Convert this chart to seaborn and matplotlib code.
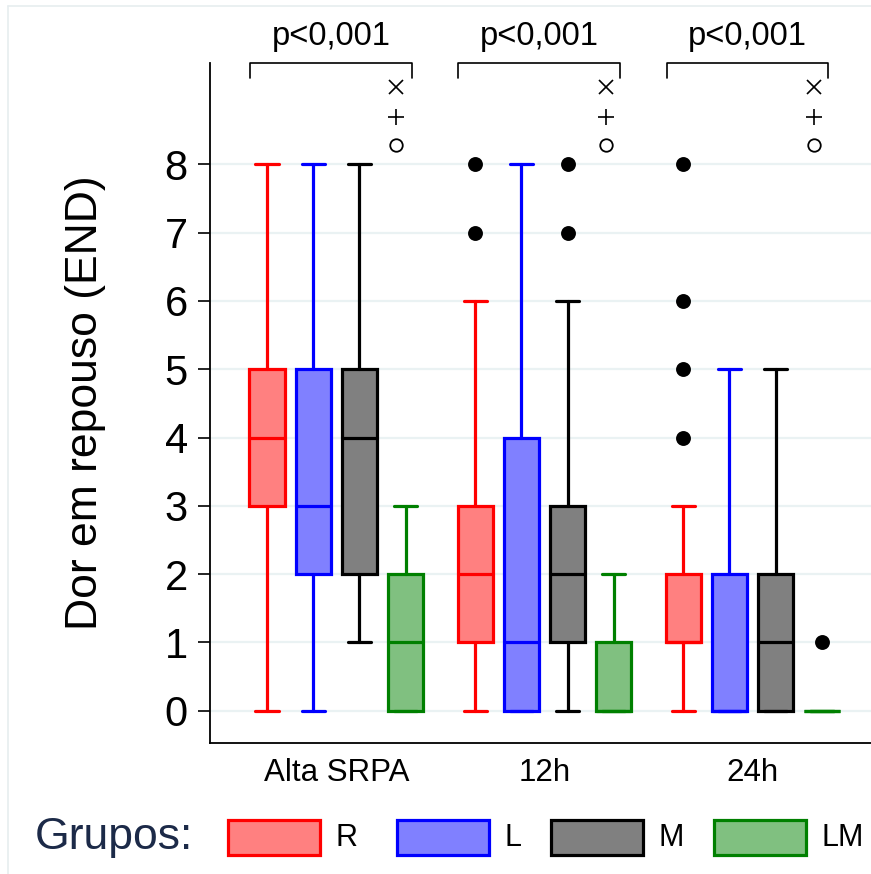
import matplotlib
matplotlib.use("Agg")
import matplotlib.pyplot as plt
from matplotlib.patches import Rectangle
import seaborn as sns
import pandas as pd

# ---------------- data ----------------
times = ["Alta SRPA", "12h", "24h"]
groups = ["R", "L", "M", "LM"]

# box statistics per time (order R, L, M, LM)
whislo = [[0, 0, 1, 0], [0, 0, 0, 0], [0, 0, 0, 0]]
q1     = [[3, 2, 2, 0], [1, 0, 1, 0], [1, 0, 0, 0]]
med    = [[4, 3, 4, 1], [2, 1, 2, 0], [1, 0, 1, 0]]
q3     = [[5, 5, 5, 2], [3, 4, 3, 1], [2, 2, 2, 0]]
whishi = [[8, 8, 8, 3], [6, 8, 6, 2], [3, 5, 5, 0]]
outliers = [[[], [], [], []],
            [[7, 8], [], [7, 8], []],
            [[4, 5, 6, 8], [], [], [1]]]

pvalues = ["p<0,001", "p<0,001", "p<0,001"]
yticks = [0, 1, 2, 3, 4, 5, 6, 7, 8]

fills = ["#FF8080", "#8080FF", "#808080", "#80C080"]
edges = ["#FF0000", "#0000FF", "#000000", "#008000"]

# ---------------- style ----------------
sns.set_theme(style="white")
plt.rcParams["font.family"] = ["Liberation Sans", "DejaVu Sans"]
for key in ["text.color", "axes.labelcolor", "xtick.color", "ytick.color"]:
    plt.rcParams[key] = "black"

fig = plt.figure(figsize=(8.71, 8.74), dpi=100)
W, H = 871, 874
ax = fig.add_axes([210 / W, (H - 743) / H, 1 - 210 / W, (743 - 63) / H])

grid_col = "#EAF2F3"
for y in yticks:
    ax.axhline(y, color=grid_col, lw=1.6, zorder=0)

lw = 2.3
pos_all, vals_all = [], []
for g in range(len(times)):
    for k in range(len(groups)):
        pos = g * 4.5 + k
        st = dict(whislo=whislo[g][k], q1=q1[g][k], med=med[g][k],
                  q3=q3[g][k], whishi=whishi[g][k], fliers=[])
        ax.bxp([st], positions=[pos], widths=0.76, capwidths=0.5,
               showfliers=False, patch_artist=True,
               boxprops=dict(facecolor=fills[k], edgecolor=edges[k], linewidth=lw),
               medianprops=dict(color=edges[k], linewidth=lw),
               whiskerprops=dict(color=edges[k], linewidth=lw),
               capprops=dict(color=edges[k], linewidth=lw),
               manage_ticks=False, zorder=3)
        for v in outliers[g][k]:
            pos_all.append(pos)
            vals_all.append(v)

df_out = pd.DataFrame({"pos": pos_all, "val": vals_all})
sns.scatterplot(data=df_out, x="pos", y="val", color="black", s=115,
                edgecolor="black", linewidth=0, ax=ax, zorder=4, legend=False)

ax.set_xlim(-1.232, -1.232 + 661 / 46.25)
ax.set_ylim(-0.476, 9.487)

ax.set_yticks(yticks)
ax.set_yticklabels([str(t) for t in yticks], fontsize=30)
ax.tick_params(axis="y", length=9, width=1.2, color="black", pad=7, left=True)
ax.set_xticks([g * 4.5 + 1.5 for g in range(len(times))])
ax.set_xticklabels(times, fontsize=22.5)
ax.tick_params(axis="x", length=0, pad=11)
ax.set_xlabel("")
ax.set_ylabel("Dor em repouso (END)", fontsize=32)
ax.yaxis.set_label_coords(-0.158, 0.5)

sns.despine(ax=ax, top=True, right=True)
for s in ["left", "bottom"]:
    ax.spines[s].set_color("black")
    ax.spines[s].set_linewidth(1.3)

# brackets, p-values and symbols
for g in range(len(times)):
    x0 = g * 4.5 - 0.36
    x1 = g * 4.5 + 3.14
    ax.plot([x0, x0, x1, x1], [9.27, 9.487, 9.487, 9.26], color="black",
            lw=1.2, clip_on=False, zorder=5)
    ax.text((x0 + x1) / 2, 9.87, pvalues[g], ha="center", va="center",
            fontsize=23.5, clip_on=False)
    xs = g * 4.5 + 2.79 + (0.03 if g > 0 else 0)
    ax.plot([xs], [9.135], marker="x", color="black", ms=10, mew=1.2, clip_on=False)
    ax.plot([xs], [8.70], marker="+", color="black", ms=12, mew=1.2, clip_on=False)
    ax.plot([xs], [8.287], marker="o", mfc="none", mec="black", ms=9, mew=1.3,
            clip_on=False)

# legend row
fig.text(35 / W, 1 - 838 / H, "Grupos:", fontsize=32, color="#1C2A48",
         ha="left", va="center")
patch_x = [228, 397, 551, 714]
for k in range(len(groups)):
    fig.patches.append(Rectangle((patch_x[k] / W, (H - 855) / H), 92 / W, 35 / H,
                                 transform=fig.transFigure, facecolor=fills[k],
                                 edgecolor=edges[k], linewidth=2.3))
    fig.text((patch_x[k] + 107) / W, 1 - 838 / H, groups[k], fontsize=22,
             ha="left", va="center")

# faint outer frame
fig.add_artist(plt.Line2D([8 / W, 8 / W], [0, 1 - 6 / H], transform=fig.transFigure,
                          color="#E6EDEF", lw=1.2))
fig.add_artist(plt.Line2D([8 / W, 1], [1 - 6 / H, 1 - 6 / H], transform=fig.transFigure,
                          color="#E6EDEF", lw=1.2))

fig.savefig("out.png", dpi=100)
